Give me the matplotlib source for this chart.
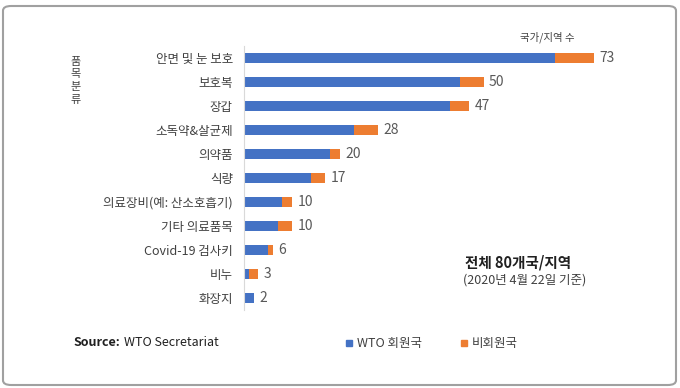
import matplotlib.pyplot as plt
from matplotlib.patches import FancyBboxPatch, Rectangle
import numpy as np

plt.rcParams['font.family'] = ['Noto Sans CJK KR', 'DejaVu Sans']

# categories (top to bottom) and counts
categories = ["안면 및 눈 보호", "보호복", "장갑", "소독약&살균제", "의약품", "식량",
              "의료장비(예: 산소호흡기)", "기타 의료품목", "Covid-19 검사키", "비누", "화장지"]
wto_members = [65, 45, 43, 23, 18, 14, 8, 7, 5, 1, 2]
non_members = [8, 5, 4, 5, 2, 3, 2, 3, 1, 2, 0]
totals = [73, 50, 47, 28, 20, 17, 10, 10, 6, 3, 2]

blue = '#4472C4'
orange = '#ED7D31'
gray_text = '#595959'

W, H = 680, 388
fig = plt.figure(figsize=(W / 100, H / 100), dpi=100)

# outer rounded frame
frame = FancyBboxPatch((3 / W, 3 / H), 673 / W, 379 / H,
                       boxstyle="round,pad=0,rounding_size=0.012",
                       transform=fig.transFigure, fill=False,
                       edgecolor='#A0A0A0', linewidth=1.5)
fig.patches.append(frame)

# axes: x from 244 px, bars centered 58..298 px
ax = fig.add_axes([244 / W, 1 - 310 / H, (640 - 244) / W, (310 - 46) / H])
y = np.arange(len(categories))
ax.barh(y, wto_members, height=0.4, color=blue)
ax.barh(y, non_members, left=wto_members, height=0.4, color=orange)
ax.set_ylim(len(categories) - 0.5, -0.5)
ax.set_xlim(0, 396 / 4.79)

for i, t in enumerate(totals):
    ax.annotate(str(t), (t, i), xytext=(4, 0), textcoords='offset points',
                va='center', ha='left', fontsize=10, color=gray_text)

ax.set_yticks(y)
ax.set_yticklabels(categories, fontsize=9, color='#404040')
ax.tick_params(axis='y', length=0, pad=8)
ax.set_xticks([])
for s in ['top', 'right', 'bottom']:
    ax.spines[s].set_visible(False)
ax.spines['left'].set_color('#D9D9D9')
ax.spines['left'].set_linewidth(0.8)

# titles and annotations
fig.text(547 / W, 1 - 37 / H, "국가/지역 수", fontsize=7.5, color='#404040', ha='center', va='center')
for k, ch in enumerate("품목분류"):
    fig.text(76 / W, 1 - (62 + 12.5 * k) / H, ch, fontsize=8, color='#404040',
             ha='center', va='center')
fig.text(465 / W, 1 - 262 / H, "전체 80개국/지역", fontsize=10.5, fontweight='bold',
         color='#202020', ha='left', va='center')
fig.text(463 / W, 1 - 280 / H, "(2020년 4월 22일 기준)", fontsize=9,
         color='#404040', ha='left', va='center')

# source
fig.text(73 / W, 1 - 343 / H, "Source:", fontsize=9, fontweight='bold',
         color='#202020', ha='left', va='center')
fig.text(124 / W, 1 - 343 / H, "WTO Secretariat", fontsize=9,
         color='#202020', ha='left', va='center')

# legend
fig.patches.append(Rectangle((346 / W, 1 - 346 / H), 6 / W, 6 / H,
                             transform=fig.transFigure, color=blue))
fig.text(357 / W, 1 - 343 / H, "WTO 회원국", fontsize=9, color='#404040', ha='left', va='center')
fig.patches.append(Rectangle((461 / W, 1 - 346 / H), 6 / W, 6 / H,
                             transform=fig.transFigure, color=orange))
fig.text(472 / W, 1 - 343 / H, "비회원국", fontsize=9, color='#404040', ha='left', va='center')

fig.savefig('out.png', dpi=100)
